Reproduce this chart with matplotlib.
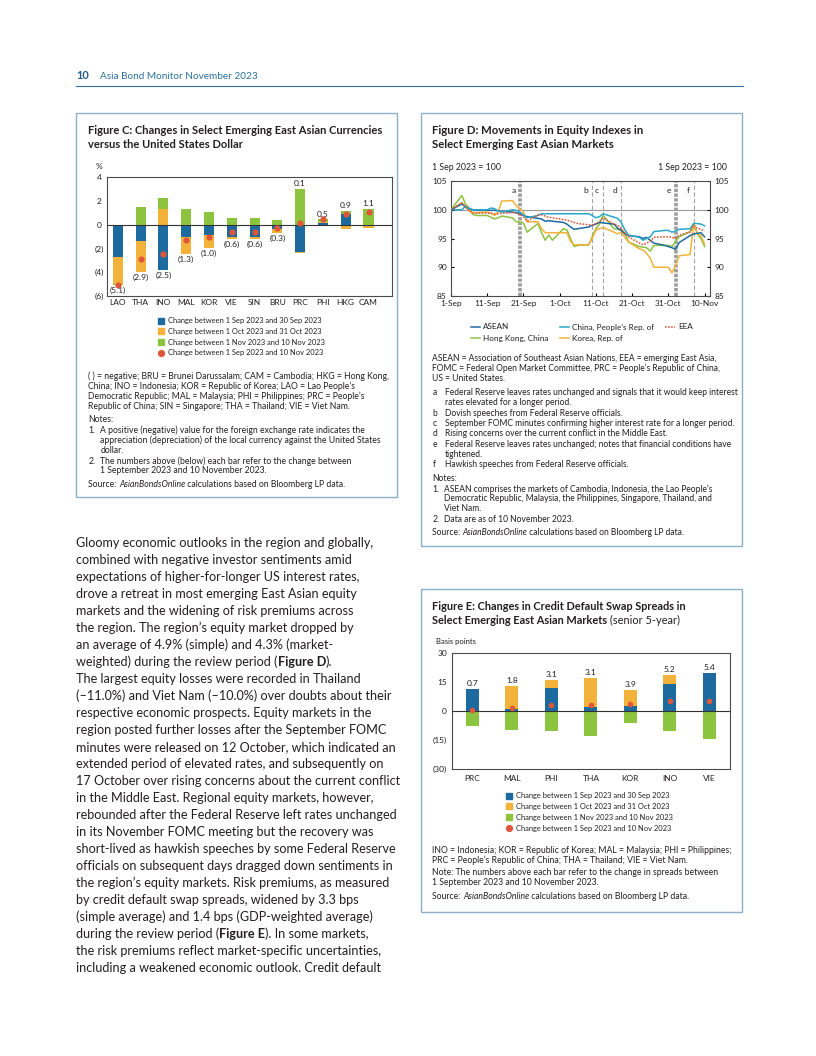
import numpy as np
import pandas as pd
import matplotlib
matplotlib.use("Agg")
import matplotlib.pyplot as plt
import matplotlib.dates as mdates
from matplotlib.lines import Line2D
from matplotlib.patches import Rectangle

# ---------------------------------------------------------------- data
# Figure C: currencies vs USD (%)
cats_C = ["LAO", "THA", "INO", "MAL", "KOR", "VIE", "SIN", "BRU", "PRC", "PHI", "HKG", "CAM"]
sep_C = [-2.7, -1.4, -3.8, -1.0, -0.9, -1.0, -1.0, -0.4, -2.3, 0.15, 0.9, 0.0]
oct_C = [-2.3, -2.6, 1.3, -1.5, -1.05, -0.25, -0.25, -0.28, -0.05, 0.05, -0.37, -0.25]
nov_C = [-0.1, 1.5, 0.9, 1.3, 1.05, 0.55, 0.55, 0.37, 3.0, 0.25, 0.28, 1.33]
tot_C = [-5.1, -2.9, -2.5, -1.3, -1.0, -0.6, -0.6, -0.3, 0.1, 0.5, 0.9, 1.1]
yticks_C = [4, 2, 0, -2, -4, -6]
ytick_labels_C = ["4", "2", "0", "(2)", "(4)", "(6)"]

# Figure D: equity indexes (1 Sep 2023 = 100), business days 1 Sep - 10 Nov
dates_D = pd.bdate_range("2023-09-01", "2023-11-10")
asean_D = [100.0,
           101.0, 100.5, 100.2, 100.0, 99.9,
           99.9, 99.9, 99.9, 99.8, 99.7,
           99.6, 99.5, 99.3, 99.0, 98.8,
           98.5, 98.4, 98.0, 98.1, 98.0,
           97.8, 97.5, 97.0, 96.6, 96.7,
           97.0, 97.3, 97.5, 97.8, 97.7,
           97.5, 96.8, 96.4, 95.8, 95.5,
           95.3, 95.0, 95.2, 94.7, 94.2,
           93.8, 93.6, 93.4, 93.1, 94.3,
           95.5, 95.8, 95.9, 96.0, 95.3]
china_D = [100.0,
           100.0, 100.6, 100.2, 100.0, 100.0,
           100.0, 100.3, 100.2, 99.8, 99.6,
           100.0, 99.9, 99.6, 99.1, 98.6,
           99.0, 99.3, 99.3, 99.3, 99.3,
           99.3, 99.3, 99.3, 99.3, 99.3,
           99.3, 99.0, 98.6, 98.8, 99.3,
           98.7, 98.5, 97.8, 96.5, 95.6,
           95.2, 94.7, 95.0, 95.3, 96.2,
           96.4, 96.4, 96.1, 96.3, 96.6,
           96.7, 97.6, 97.6, 97.5, 97.2]
eea_D = [100.0,
         101.2, 100.5, 99.8, 99.5, 99.4,
         99.4, 99.4, 99.3, 99.3, 99.4,
         99.5, 99.4, 99.2, 98.8, 98.0,
         99.1, 99.1, 98.9, 98.7, 98.6,
         98.3, 98.2, 98.0, 97.8, 97.6,
         97.4, 97.3, 97.6, 98.0, 98.6,
         97.5, 97.3, 96.7, 96.0, 95.3,
         94.2, 93.9, 94.2, 94.5, 95.2,
         95.3, 95.3, 95.2, 95.0, 95.6,
         96.1, 97.3, 96.8, 96.6, 96.3]
hk_D = [100.0,
        102.5, 101.0, 100.3, 99.2, 99.0,
        99.0, 98.7, 98.4, 98.6, 98.9,
        98.6, 97.9, 97.9, 97.7, 96.1,
        97.6, 96.0, 94.7, 95.6, 94.7,
        96.7, 96.5, 95.0, 93.6, 93.8,
        93.9, 95.3, 96.7, 97.5, 99.0,
        96.7, 96.6, 96.4, 95.9, 94.4,
        93.6, 93.5, 93.4, 92.8, 93.8,
        93.8, 93.8, 93.6, 94.5, 95.3,
        96.2, 97.6, 95.8, 95.0, 93.6]
korea_D = [100.0,
           101.2, 100.5, 99.8, 99.5, 99.5,
           99.6, 99.4, 99.0, 99.6, 101.5,
           101.6, 100.7, 100.2, 99.6, 97.9,
           97.9, 96.7, 96.0, 96.0, 96.0,
           96.0, 96.0, 94.5, 93.9, 93.9,
           93.9, 95.0, 96.5, 96.7, 96.9,
           96.1, 95.8, 96.1, 95.2, 94.4,
           93.2, 93.0, 92.4, 91.6, 90.0,
           90.0, 90.0, 89.0, 90.3, 92.0,
           92.2, 97.6, 95.9, 95.5, 94.0]
series_names_D = ["ASEAN", "Hong Kong, China", "China, People\u2019s Rep. of", "Korea, Rep. of", "EEA"]
event_dates_D = ["2023-09-20", "2023-10-10", "2023-10-13", "2023-10-18", "2023-11-02", "2023-11-07"]
event_labels_D = ["a", "b", "c", "d", "e", "f"]
event_thick_D = [True, False, False, False, True, False]
xtick_dates_D = ["2023-09-01", "2023-09-11", "2023-09-21", "2023-10-01",
                 "2023-10-11", "2023-10-21", "2023-10-31", "2023-11-10"]
xtick_labels_D = ["1-Sep", "11-Sep", "21-Sep", "1-Oct", "11-Oct", "21-Oct", "31-Oct", "10-Nov"]
yticks_D = [85, 90, 95, 100, 105]

# Figure E: CDS spreads (basis points)
cats_E = ["PRC", "MAL", "PHI", "THA", "KOR", "INO", "VIE"]
sep_E = [11.5, 0.9, 12.2, 2.1, 2.6, 14.1, 19.7]
oct_E = [0.0, 12.3, 4.1, 14.9, 8.2, 4.6, 0.0]
nov_E = [-7.7, -9.8, -10.5, -12.9, -6.3, -10.3, -14.6]
tot_E = [0.7, 1.8, 3.1, 3.1, 3.9, 5.2, 5.4]
yticks_E = [30, 15, 0, -15, -30]
ytick_labels_E = ["30", "15", "0", "(15)", "(30)"]

legend_labels = ["Change between 1 Sep 2023 and 30 Sep 2023",
                 "Change between 1 Oct 2023 and 31 Oct 2023",
                 "Change between 1 Nov 2023 and 10 Nov 2023",
                 "Change between 1 Sep 2023 and 10 Nov 2023"]

# ---------------------------------------------------------------- style
W, H = 816, 1056
TXT = "#231F20"
BLUE = "#1D6B9E"
ORANGE = "#F3B23A"
GREEN = "#8CC43F"
RED = "#E1553A"
CYAN = "#2BA8C9"
BOXC = "#8DB0C9"
HEAD = "#2E72A0"
FRAME = "#4a4a4a"

plt.rcParams["font.family"] = ["Lato", "DejaVu Sans"]
plt.rcParams["lines.scale_dashes"] = False
fig = plt.figure(figsize=(W / 100, H / 100), dpi=100)
fig.patch.set_facecolor("white")
R = fig.canvas.get_renderer()


def fx(x):
    return x / W


def fy(y):
    return 1 - y / H


def ax_px(l, t, r, b):
    return fig.add_axes([l / W, 1 - b / H, (r - l) / W, (b - t) / H])


def width_px(s, size, weight="normal", style="normal"):
    t = fig.text(0, 0, s, fontsize=size, fontweight=weight, fontstyle=style)
    w = t.get_window_extent(R).width
    t.remove()
    return w


def adv(s, size, weight="normal", style="normal"):
    return width_px(s + "x", size, weight, style) - width_px("x", size, weight, style)


def fit(s, target, weight="normal", style="normal"):
    return 10.0 * target / width_px(s, 10.0, weight, style)


def put(x, y, s, size, weight="normal", style="normal", color=TXT, ha="left"):
    base = y + 0.33 * size * 100 / 72
    return fig.text(fx(x), fy(base), s, fontsize=size, fontweight=weight,
                    fontstyle=style, color=color, ha=ha, va="baseline")


def put_runs(x, y, runs, size, color=TXT):
    for s, wt, st in runs:
        put(x, y, s, size, wt, st, color)
        x += adv(s, size, wt, st)


def source_line(x, y, size):
    put_runs(x, y, [("Source: ", "normal", "normal"),
                    ("AsianBondsOnline", "normal", "italic"),
                    (" calculations based on Bloomberg LP data.", "normal", "normal")], size)


def stacked(ax, x, series, colors, width):
    pos = np.zeros(len(x))
    neg = np.zeros(len(x))
    for vals, c in zip(series, colors):
        v = np.asarray(vals, float)
        bottom = np.where(v >= 0, pos, neg)
        ax.bar(x, v, width, bottom=bottom, color=c, linewidth=0, zorder=2)
        pos += np.clip(v, 0, None)
        neg += np.clip(v, None, 0)
    return pos, neg


def style_frame(ax):
    for sp in ax.spines.values():
        sp.set_color(FRAME)
        sp.set_linewidth(0.8)


# ---------------------------------------------------------------- page frame
for (l, t, r, b) in [(76, 113, 397, 497), (421, 113, 742, 546), (421, 589, 742, 912)]:
    fig.add_artist(Rectangle((fx(l), fy(b)), (r - l) / W, (b - t) / H,
                             transform=fig.transFigure, fill=False,
                             edgecolor=BOXC, lw=1.0))
fig.add_artist(Line2D([fx(76), fx(743)], [fy(86), fy(86)], transform=fig.transFigure,
                      color=HEAD, lw=0.8))
put(76, 75.5, "10", fit("10", 12.7, "bold"), "bold", color="#1F5A87")
put(100, 75.5, "Asia Bond Monitor November 2023",
    fit("Asia Bond Monitor November 2023", 159), color=HEAD)

tick_size = 6.0
lab_size = 6.0

# ---------------------------------------------------------------- Figure C
tC = fit("Figure C: Changes in Select Emerging East Asian Currencies", 294.4, "bold")
put(88.3, 130.5, "Figure C: Changes in Select Emerging East Asian Currencies", tC, "bold")
put(88.3, 144.5, "versus the United States Dollar", tC, "bold")
put(98.5, 166, "%", tick_size, ha="center")

axC = ax_px(107, 177, 392, 296)
xC = np.arange(len(cats_C))
posC, negC = stacked(axC, xC, [sep_C, oct_C, nov_C], [BLUE, ORANGE, GREEN], 0.44)
axC.scatter(xC, tot_C, s=20, color=RED, zorder=4, linewidths=0)
axC.axhline(0, color="#333333", lw=0.8, zorder=3)
for i, t in enumerate(tot_C):
    if t < 0:
        axC.annotate(f"({abs(t):.1f})", (xC[i], negC[i]), xytext=(0, -1.2),
                     textcoords="offset points", ha="center", va="top",
                     fontsize=lab_size, color=TXT)
    else:
        axC.annotate(f"{t:.1f}", (xC[i], posC[i]), xytext=(0, 1.2),
                     textcoords="offset points", ha="center", va="bottom",
                     fontsize=lab_size, color=TXT)
axC.set_xlim(-0.47, len(cats_C) - 1 + 1.03)
axC.set_ylim(-6, 4)
axC.set_yticks(yticks_C)
axC.set_yticklabels(ytick_labels_C)
axC.set_xticks(xC)
axC.set_xticklabels(cats_C)
axC.tick_params(axis="x", length=0, pad=2.5, labelsize=tick_size, labelcolor=TXT)
axC.tick_params(axis="y", length=0, pad=5.6, labelsize=tick_size, labelcolor=TXT)
for lab in axC.get_yticklabels():
    lab.set_ha("center")
style_frame(axC)

legC_size = fit(legend_labels[2], 157)
em = legC_size * 100 / 72
handles_bar = [Line2D([], [], marker="s", ls="none", color=c, markersize=4.0)
               for c in (BLUE, ORANGE, GREEN)] + \
              [Line2D([], [], marker="o", ls="none", color=RED, markersize=4.2)]


def bar_legend(mx, tx, y0, y3):
    pitch = (y3 - y0) / 3.0
    hl = 1.0
    htp = (tx - mx) / em - hl / 2
    lsp = pitch / em - 0.93
    fig.legend(handles_bar, legend_labels, loc="upper left",
               bbox_to_anchor=(fx(mx - hl * em / 2), fy(y0 - 0.47 * em)),
               frameon=False, fontsize=legC_size, handlelength=hl,
               handletextpad=htp, labelspacing=lsp, borderpad=0,
               borderaxespad=0, labelcolor=TXT)


bar_legend(161, 168.3, 320.7, 352.7)

nC = fit("( ) = negative; BRU = Brunei Darussalam; CAM = Cambodia; HKG = Hong Kong,", 298.3)
L, I = 88.3, 100.3
put(L, 375.7, "( ) = negative; BRU = Brunei Darussalam; CAM = Cambodia; HKG = Hong Kong,", nC)
put(L, 385.7, "China; INO = Indonesia; KOR = Republic of Korea; LAO = Lao People\u2019s", nC)
put(L, 395.7, "Democratic Republic; MAL = Malaysia; PHI = Philippines; PRC = People\u2019s", nC)
put(L, 405.7, "Republic of China; SIN = Singapore; THA = Thailand; VIE = Viet Nam.", nC)
put(L, 419.0, "Notes:", nC)
put(L, 429.7, "1.", nC)
put(I, 429.7, "A positive (negative) value for the foreign exchange rate indicates the", nC)
put(I, 440.0, "appreciation (depreciation) of the local currency against the United States", nC)
put(I, 450.0, "dollar.", nC)
put(L, 460.7, "2.", nC)
put(I, 460.7, "The numbers above (below) each bar refer to the change between", nC)
put(I, 470.5, "1 September 2023 and 10 November 2023.", nC)
source_line(L, 484.0, nC)

# ---------------------------------------------------------------- Figure D
tD = fit("Figure D: Movements in Equity Indexes in", 212, "bold")
put(432.3, 130.5, "Figure D: Movements in Equity Indexes in", tD, "bold")
put(432.3, 144.5, "Select Emerging East Asian Markets", tD, "bold")
bD = fit("1 Sep 2023 = 100", 68.7)
put(432.3, 167.3, "1 Sep 2023 = 100", bD)
put(726.7, 167.3, "1 Sep 2023 = 100", bD, ha="right")

axD = ax_px(451, 181, 710, 296)
start = pd.Timestamp("2023-09-01")
axD.axhline(100, color="#9a9a9a", lw=0.8, zorder=1)
for d, lab, thick in zip(event_dates_D, event_labels_D, event_thick_D):
    dd = mdates.date2num(pd.Timestamp(d))
    if thick:
        axD.axvline(dd, color="#9b9b9b", lw=2.6, dashes=(2.4, 1.0), zorder=1.5)
    else:
        axD.axvline(dd, color="#a3a3a3", lw=0.8, dashes=(3.0, 1.8), zorder=1.5)
    axD.annotate(lab, xy=(dd, 1), xycoords=("data", "axes fraction"), xytext=(-3, -6.6),
                 textcoords="offset points", ha="right", va="center",
                 fontsize=tick_size, color=TXT)
axD.plot(dates_D, hk_D, color=GREEN, lw=1.1, zorder=3)
axD.plot(dates_D, korea_D, color=ORANGE, lw=1.1, zorder=3)
axD.plot(dates_D, asean_D, color=BLUE, lw=1.1, zorder=3)
axD.plot(dates_D, china_D, color=CYAN, lw=1.1, zorder=3)
axD.plot(dates_D, eea_D, color=RED, lw=1.1, dashes=(1.2, 1.0), zorder=4)
axD.set_xlim(mdates.date2num(start), mdates.date2num(start + pd.Timedelta(days=71.5)))
axD.set_ylim(85, 105)
axD.set_xticks([mdates.date2num(pd.Timestamp(d)) for d in xtick_dates_D])
axD.set_xticklabels(xtick_labels_D)
axD.set_yticks(yticks_D)
axD.tick_params(axis="x", direction="in", length=2.5, pad=3.2, labelsize=tick_size, labelcolor=TXT)
axD.tick_params(axis="y", direction="in", length=2.5, pad=3.0, labelsize=tick_size, labelcolor=TXT,
                left=True, right=True, labelleft=True, labelright=True)
style_frame(axD)

legD_size = fit("China, People\u2019s Rep. of", 81.6)
emD = legD_size * 100 / 72
handles_D = [Line2D([], [], color=BLUE, lw=1.1),
             Line2D([], [], color=GREEN, lw=1.1),
             Line2D([], [], color=CYAN, lw=1.1),
             Line2D([], [], color=ORANGE, lw=1.1),
             Line2D([], [], color=RED, lw=1.1, dashes=(1.2, 1.0))]
fig.legend(handles_D, series_names_D, loc="upper left", ncol=3,
           bbox_to_anchor=(fx(470.7), fy(327.3 - 0.47 * emD)),
           frameon=False, fontsize=legD_size, handlelength=9.3 / emD,
           handletextpad=3.3 / emD, columnspacing=11.0 / emD,
           labelspacing=11.7 / emD - 0.93, borderpad=0, borderaxespad=0, labelcolor=TXT)

nD = fit("ASEAN = Association of Southeast Asian Nations, EEA = emerging East Asia,", 286)
L, I = 432.3, 445.0
put(L, 358.3, "ASEAN = Association of Southeast Asian Nations, EEA = emerging East Asia,", nD)
put(L, 368.3, "FOMC = Federal Open Market Committee, PRC = People\u2019s Republic of China,", nD)
put(L, 378.3, "US = United States.", nD)
notes_D = [(392.3, "a", "Federal Reserve leaves rates unchanged and signals that it would keep interest"),
           (402.3, "", "rates elevated for a longer period."),
           (412.7, "b", "Dovish speeches from Federal Reserve officials."),
           (423.0, "c", "September FOMC minutes confirming higher interest rate for a longer period."),
           (433.3, "d", "Rising concerns over the current conflict in the Middle East."),
           (444.0, "e", "Federal Reserve leaves rates unchanged; notes that financial conditions have"),
           (454.0, "", "tightened."),
           (464.3, "f", "Hawkish speeches from Federal Reserve officials.")]
for y, k, s in notes_D:
    if k:
        put(L, y, k, nD)
    put(I, y, s, nD)
put(L, 477.7, "Notes:", nD)
put(L, 488.7, "1.", nD)
put(444, 488.7, "ASEAN comprises the markets of Cambodia, Indonesia, the Lao People\u2019s", nD)
put(444, 498.5, "Democratic Republic, Malaysia, the Philippines, Singapore, Thailand, and", nD)
put(444, 508.5, "Viet Nam.", nD)
put(L, 519.3, "2.", nD)
put(444, 519.3, "Data are as of 10 November 2023.", nD)
source_line(L, 532.3, nD)

# ---------------------------------------------------------------- Figure E
tE = fit("Figure E: Changes in Credit Default Swap Spreads in", 256, "bold")
put(432.3, 606.0, "Figure E: Changes in Credit Default Swap Spreads in", tE, "bold")
put_runs(432.3, 620.7, [("Select Emerging East Asian Markets", "bold", "normal"),
                        (" (senior 5-year)", "normal", "normal")], tE)
put(435.7, 641.7, "Basis points", fit("Basis points", 40))

axE = ax_px(451.7, 653.3, 730, 769)
xE = np.arange(len(cats_E))
posE, negE = stacked(axE, xE, [sep_E, oct_E, nov_E], [BLUE, ORANGE, GREEN], 0.33)
axE.scatter(xE, tot_E, s=16, color=RED, zorder=4, linewidths=0)
axE.axhline(0, color="#333333", lw=0.8, zorder=3)
for i, t in enumerate(tot_E):
    axE.annotate(f"{t:.1f}", (xE[i], posE[i]), xytext=(0, 1.5),
                 textcoords="offset points", ha="center", va="bottom",
                 fontsize=lab_size, color=TXT)
axE.set_xlim(-0.52, len(cats_E) - 1 + 0.52)
axE.set_ylim(-30, 30)
axE.set_yticks(yticks_E)
axE.set_yticklabels(ytick_labels_E)
axE.set_xticks(xE)
axE.set_xticklabels(cats_E)
axE.tick_params(axis="x", length=0, pad=4.3, labelsize=tick_size, labelcolor=TXT)
axE.tick_params(axis="y", length=0, pad=3.4, labelsize=tick_size, labelcolor=TXT)
style_frame(axE)

bar_legend(509.3, 516.0, 795.7, 828.0)

nE = fit("INO = Indonesia; KOR = Republic of Korea; MAL = Malaysia; PHI = Philippines;", 296)
L = 432.3
put(L, 850.0, "INO = Indonesia; KOR = Republic of Korea; MAL = Malaysia; PHI = Philippines;", nE)
put(L, 860.0, "PRC = People\u2019s Republic of China; THA = Thailand; VIE = Viet Nam.", nE)
put(L, 872.0, "Note: The numbers above each bar refer to the change in spreads between", nE)
put(L, 882.0, "1 September 2023 and 10 November 2023.", nE)
source_line(L, 896.0, nE)

# ---------------------------------------------------------------- body text
para = ["Gloomy economic outlooks in the region and globally,",
        "combined with negative investor sentiments amid",
        "expectations of higher-for-longer US interest rates,",
        "drove a retreat in most emerging East Asian equity",
        "markets and the widening of risk premiums across",
        "the region. The region\u2019s equity market dropped by",
        "an average of 4.9% (simple) and 4.3% (market-",
        "weighted) during the review period (**Figure D**).",
        "The largest equity losses were recorded in Thailand",
        "(\u201311.0%) and Viet Nam (\u201310.0%) over doubts about their",
        "respective economic prospects. Equity markets in the",
        "region posted further losses after the September FOMC",
        "minutes were released on 12 October, which indicated an",
        "extended period of elevated rates, and subsequently on",
        "17 October over rising concerns about the current conflict",
        "in the Middle East. Regional equity markets, however,",
        "rebounded after the Federal Reserve left rates unchanged",
        "in its November FOMC meeting but the recovery was",
        "short-lived as hawkish speeches by some Federal Reserve",
        "officials on subsequent days dragged down sentiments in",
        "the region\u2019s equity markets. Risk premiums, as measured",
        "by credit default swap spreads, widened by 3.3 bps",
        "(simple average) and 1.4 bps (GDP-weighted average)",
        "during the review period (**Figure E**). In some markets,",
        "the risk premiums reflect market-specific uncertainties,",
        "including a weakened economic outlook. Credit default"]
pS = fit("the risk premiums reflect market-specific uncertainties,", 305)
for k, line in enumerate(para):
    parts = line.split("**")
    runs = [(p, "bold" if j % 2 else "normal", "normal") for j, p in enumerate(parts) if p]
    put_runs(76, 543 + k * 17.0, runs, pS)

fig.savefig("out.png", dpi=100)
